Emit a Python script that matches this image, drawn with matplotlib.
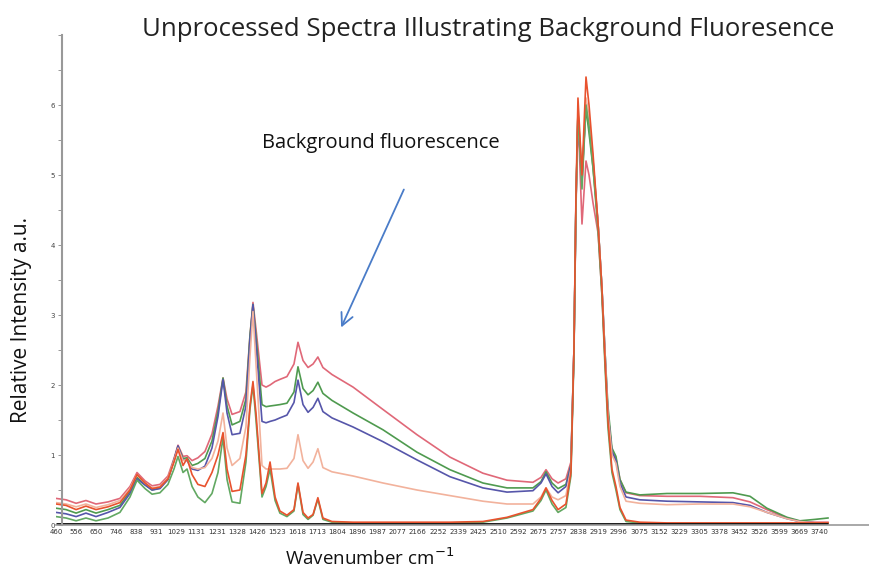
import matplotlib
matplotlib.use("Agg")
import matplotlib.pyplot as plt

# wavenumber tick labels (evenly spaced positions on the axis)
wavenumbers = [460, 556, 650, 746, 838, 931, 1029, 1131, 1231, 1328, 1426, 1523, 1618,
               1713, 1804, 1896, 1987, 2077, 2166, 2252, 2339, 2425, 2510, 2592, 2675,
               2757, 2838, 2919, 2996, 3075, 3152, 3229, 3305, 3378, 3452, 3526, 3599,
               3669, 3740]

# sample positions, in tick-index units
pos = [0.00, 0.50, 1.00, 1.49, 1.99, 2.59, 3.18, 3.68, 4.03, 4.43, 4.78, 5.17, 5.57,
       5.87, 6.07, 6.32, 6.52, 6.77, 7.06, 7.41, 7.76, 8.06, 8.31, 8.51, 8.76, 9.15,
       9.45, 9.65, 9.80, 9.95, 10.25, 10.45, 10.65, 10.90, 11.14, 11.49, 11.84, 12.04,
       12.29, 12.54, 12.79, 13.03, 13.28, 13.73, 14.78, 16.27, 17.96, 19.60, 21.24,
       22.44, 23.73, 24.13, 24.38, 24.68, 24.98, 25.37, 25.62, 25.77, 25.87, 25.97,
       26.17, 26.37, 26.52, 26.72, 26.97, 27.16, 27.31, 27.46, 27.66, 27.86, 28.06,
       28.36, 29.05, 30.40, 32.04, 33.68, 34.53, 35.37, 36.37, 37.01, 37.76, 38.41]

pink = [0.38, 0.36, 0.31, 0.35, 0.30, 0.33, 0.38, 0.55, 0.75, 0.63, 0.56, 0.58, 0.70,
        0.95, 1.14, 0.98, 0.99, 0.92, 0.96, 1.05, 1.30, 1.70, 2.10, 1.80, 1.58, 1.62,
        1.90, 2.70, 3.18, 2.80, 2.00, 1.97, 2.00, 2.05, 2.08, 2.12, 2.30, 2.61, 2.35,
        2.25, 2.30, 2.40, 2.25, 2.15, 1.97, 1.65, 1.29, 0.97, 0.74, 0.64, 0.61, 0.68,
        0.79, 0.66, 0.60, 0.66, 0.90, 2.5, 4.5, 5.9, 4.3, 5.2, 5.0, 4.6, 4.17, 3.3,
        2.4, 1.6, 1.05, 0.95, 0.65, 0.46, 0.42, 0.41, 0.41, 0.39, 0.33, 0.22, 0.10,
        0.05, 0.04, 0.04]

green = [0.24, 0.22, 0.17, 0.22, 0.17, 0.22, 0.28, 0.48, 0.68, 0.58, 0.50, 0.53, 0.65,
         0.92, 1.12, 0.95, 0.96, 0.85, 0.88, 0.95, 1.20, 1.62, 2.10, 1.70, 1.43, 1.48,
         1.80, 2.70, 3.15, 2.70, 1.72, 1.69, 1.70, 1.71, 1.72, 1.74, 1.90, 2.26, 1.95,
         1.86, 1.92, 2.04, 1.88, 1.78, 1.60, 1.36, 1.04, 0.79, 0.60, 0.53, 0.53, 0.62,
         0.76, 0.60, 0.52, 0.58, 0.85, 2.5, 4.6, 5.9, 5.0, 5.95, 5.6, 5.1, 4.3, 3.4,
         2.5, 1.7, 1.1, 0.98, 0.65, 0.47, 0.43, 0.45, 0.45, 0.46, 0.41, 0.24, 0.11,
         0.06, 0.08, 0.10]

blue = [0.18, 0.16, 0.12, 0.17, 0.12, 0.18, 0.25, 0.45, 0.66, 0.57, 0.50, 0.52, 0.65,
        0.93, 1.13, 0.93, 0.92, 0.80, 0.78, 0.84, 1.10, 1.55, 2.08, 1.60, 1.29, 1.31,
        1.70, 2.65, 3.15, 2.60, 1.48, 1.46, 1.48, 1.50, 1.53, 1.57, 1.75, 2.07, 1.72,
        1.61, 1.68, 1.81, 1.62, 1.53, 1.40, 1.19, 0.93, 0.69, 0.53, 0.47, 0.49, 0.60,
        0.73, 0.55, 0.46, 0.55, 0.85, 2.5, 4.6, 5.8, 4.9, 6.05, 5.8, 5.2, 4.3, 3.4,
        2.5, 1.6, 1.05, 0.92, 0.60, 0.40, 0.36, 0.34, 0.33, 0.32, 0.28, 0.18, 0.09,
        0.05, 0.03, 0.03]

peach = [0.32, 0.30, 0.26, 0.30, 0.25, 0.29, 0.35, 0.52, 0.72, 0.60, 0.53, 0.55, 0.67,
         0.92, 1.10, 0.92, 0.93, 0.82, 0.80, 0.82, 0.95, 1.20, 1.60, 1.10, 0.85, 0.95,
         1.40, 2.40, 3.05, 2.30, 0.85, 0.80, 0.80, 0.80, 0.80, 0.81, 0.95, 1.29, 0.92,
         0.81, 0.90, 1.09, 0.82, 0.76, 0.70, 0.60, 0.50, 0.42, 0.34, 0.30, 0.30, 0.40,
         0.53, 0.40, 0.36, 0.42, 0.80, 2.5, 4.6, 5.9, 4.9, 6.1, 5.8, 5.2, 4.3, 3.4,
         2.5, 1.6, 1.0, 0.88, 0.55, 0.34, 0.31, 0.29, 0.30, 0.30, 0.26, 0.18, 0.09,
         0.05, 0.03, 0.03]

orange = [0.30, 0.28, 0.22, 0.27, 0.22, 0.26, 0.32, 0.50, 0.72, 0.60, 0.52, 0.54, 0.66,
          0.90, 1.08, 0.85, 0.95, 0.72, 0.58, 0.55, 0.75, 1.00, 1.32, 0.80, 0.48, 0.50,
          1.00, 1.70, 2.05, 1.60, 0.45, 0.60, 0.90, 0.40, 0.20, 0.14, 0.22, 0.60, 0.18,
          0.10, 0.15, 0.39, 0.10, 0.05, 0.04, 0.04, 0.04, 0.04, 0.05, 0.11, 0.22, 0.38,
          0.53, 0.35, 0.22, 0.30, 0.75, 2.5, 4.7, 6.1, 5.0, 6.4, 6.0, 5.3, 4.3, 3.4,
          2.4, 1.5, 0.80, 0.55, 0.25, 0.07, 0.04, 0.03, 0.03, 0.03, 0.03, 0.03, 0.03,
          0.03, 0.03, 0.03]

green_low = [0.12, 0.10, 0.06, 0.10, 0.06, 0.10, 0.18, 0.40, 0.64, 0.52, 0.44, 0.46,
             0.58, 0.80, 0.98, 0.75, 0.80, 0.55, 0.40, 0.32, 0.45, 0.75, 1.25, 0.65,
             0.33, 0.31, 0.90, 1.65, 2.00, 1.50, 0.40, 0.55, 0.80, 0.35, 0.17, 0.12,
             0.20, 0.58, 0.15, 0.08, 0.14, 0.37, 0.08, 0.04, 0.03, 0.03, 0.03, 0.03,
             0.04, 0.10, 0.20, 0.35, 0.50, 0.30, 0.18, 0.25, 0.70, 2.4, 4.6, 5.9, 4.8,
             6.0, 5.7, 5.1, 4.2, 3.3, 2.3, 1.4, 0.75, 0.50, 0.22, 0.05, 0.03, 0.02,
             0.02, 0.02, 0.02, 0.02, 0.02, 0.02, 0.02, 0.02]

series = [
    (pink, "#e06878"),
    (green, "#4f9a4f"),
    (blue, "#5656aa"),
    (peach, "#f2b29c"),
    (green_low, "#62a862"),
    (orange, "#e8522e"),
]

fig = plt.figure(figsize=(8.7, 5.71), dpi=100)
ax = fig.add_axes([56 / 870, 46 / 571, 814 / 870, 490 / 571])

for vals, col in series:
    ax.plot(pos, vals, color=col, lw=1.2)
# thick dark baseline under the traces
ax.plot(pos, [0] * len(pos), color="#111111", lw=3.5, solid_capstyle="butt")

ax.set_xlim(0, 40.5)
ax.set_ylim(0, 7)

ax.spines["top"].set_visible(False)
ax.spines["right"].set_visible(False)
ax.spines["left"].set_position(("data", 0.3))
ax.spines["left"].set_color("#999999")
ax.spines["left"].set_linewidth(1.5)
ax.spines["bottom"].set_color("#999999")
ax.spines["bottom"].set_linewidth(1.2)

ax.set_xticks(range(len(wavenumbers)))
ax.set_xticklabels([str(w) for w in wavenumbers], fontsize=5, color="#333333")
ax.tick_params(axis="x", length=0, pad=3)

ax.set_yticks(range(8))
ax.set_yticklabels([str(i) for i in range(7)] + [""], fontsize=5, color="#444444")
ax.set_yticks([i + 0.5 for i in range(7)], minor=True)
ax.tick_params(axis="y", which="both", length=3, width=0.6, color="#888888", pad=2)

fig.text(488 / 870, 1 - 30 / 571, "Unprocessed Spectra Illustrating Background Fluoresence",
         ha="center", va="center", fontsize=18.5, family="Open Sans", color="#222222")
fig.text(22 / 870, 1 - 320 / 571, "Relative Intensity a.u.", rotation=90,
         ha="center", va="center", fontsize=15, family="Open Sans", color="#111111")
fig.text(370 / 870, 1 - 558 / 571, "Wavenumber cm$^{-1}$",
         ha="center", va="center", fontsize=13.5, family="Open Sans", color="#111111")
fig.text(381 / 870, 1 - 143 / 571, "Background fluorescence",
         ha="center", va="center", fontsize=14.5, family="Open Sans", color="#111111")

ax.annotate("", xy=(340, 571 - 330), xycoords="figure pixels",
            xytext=(405, 571 - 187), textcoords="figure pixels",
            arrowprops=dict(arrowstyle="->", color="#4a7cc8", lw=1.3,
                            mutation_scale=22))

fig.savefig("out.png", dpi=100)
